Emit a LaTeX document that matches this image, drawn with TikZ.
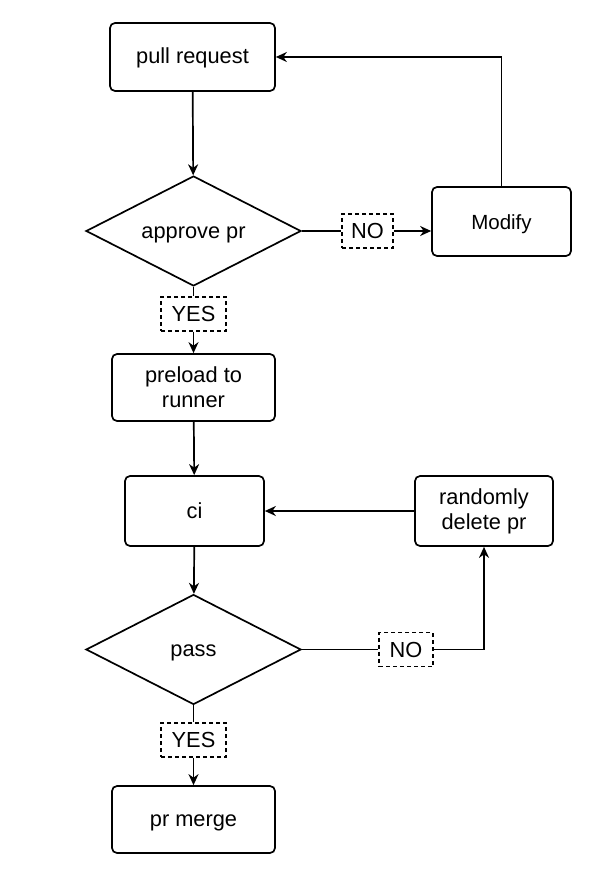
\documentclass[tikz,border=0pt]{standalone}
\usepackage{fontspec}
\setmainfont{Liberation Sans}
\usetikzlibrary{positioning,arrows.meta,shapes.geometric}

\begin{document}
\begin{tikzpicture}[x=1pt, y=-1pt, line width=1.7pt,
  font=\fontsize{21.8}{25}\selectfont,
  stepbox/.style={draw, rounded corners=5pt, align=center, inner sep=2pt, minimum width=#1},
  stepbox/.default=163,
  oneline/.style={text height=16pt, text depth=2pt},
  choice/.style={draw, diamond, aspect=1.95, inner sep=1pt, minimum width=215, minimum height=110, oneline},
  answer/.style={draw, dashed, dash pattern=on 4pt off 3pt, line width=1.3pt, fill=white, inner sep=1pt, minimum width=#1, minimum height=34},
  answer/.default=60,
  arr/.style={-{Stealth[length=11pt, width=10pt, inset=3.5pt]}}]
  \useasboundingbox (0,0) rectangle (605,893);
  \node[stepbox=165, minimum height=68, oneline] (pull) at (192.5,57) {pull request};
  \node[choice] (approve) at (193.5,231) {approve pr};
  \node[answer=51] (no1) at (367.5,231) {NO};
  \node[stepbox=139, minimum height=69, text height=16pt, text depth=0pt, font=\fontsize{20.5}{24}\selectfont] (modify) at (501.5,221.5) {Modify};
  \node[answer=65] (yes1) at (193.5,314) {YES};
  \node[stepbox=163, minimum height=67] (preload) at (193.5,387.5) {preload to\\runner};
  \node[stepbox=139, minimum height=70, oneline] (ci) at (194.5,511) {ci};
  \node[stepbox=138, minimum height=70] (delete) at (484,511) {randomly\\delete pr};
  \node[choice] (pass) at (193.5,649.5) {pass};
  \node[answer=54] (no2) at (406,649.5) {NO};
  \node[answer=65] (yes2) at (193.5,740) {YES};
  \node[stepbox=163, minimum height=67, oneline] (merge) at (193.5,819.5) {pr merge};
  % first review loop
  \draw[arr] (pull) -- (approve);
  \draw (approve.east) -- (no1.west);
  \draw[arr] (no1.east) -- (modify.west |- no1.east);
  \draw[arr] (modify.north) |- (pull.east);
  \draw (approve.south) -- (yes1.north);
  \draw[arr] (yes1) -- (preload);
  % ci loop
  \draw[arr] (preload) -- (ci);
  \draw[arr] (ci) -- (pass);
  \draw[arr] (delete) -- (ci);
  \draw (pass.east) -- (no2.west);
  \draw[arr] (no2.east) -| (delete.south);
  \draw (pass.south) -- (yes2.north);
  \draw[arr] (yes2) -- (merge);
\end{tikzpicture}
\end{document}
